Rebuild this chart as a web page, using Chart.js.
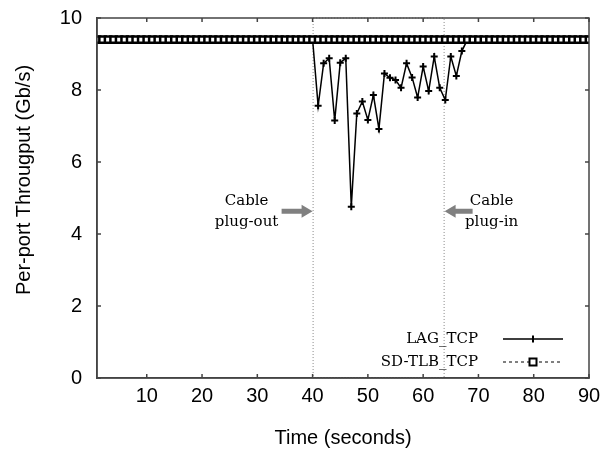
<!DOCTYPE html>
<html>
<head>
<meta charset="utf-8">
<script src="https://cdn.jsdelivr.net/npm/chart.js@4/dist/chart.umd.min.js"></script>
<style>
html, body { margin: 0; padding: 0; background: #fff; }
</style>
</head>
<body>
<canvas id="chart" width="606" height="452"></canvas>
<script>
// time axis, one sample per second
const seconds = [
  1, 2, 3, 4, 5, 6, 7, 8, 9, 10, 11, 12, 13, 14, 15, 16, 17, 18, 19, 20,
  21, 22, 23, 24, 25, 26, 27, 28, 29, 30, 31, 32, 33, 34, 35, 36, 37, 38, 39, 40,
  41, 42, 43, 44, 45, 46, 47, 48, 49, 50, 51, 52, 53, 54, 55, 56, 57, 58, 59, 60,
  61, 62, 63, 64, 65, 66, 67, 68, 69, 70, 71, 72, 73, 74, 75, 76, 77, 78, 79, 80,
  81, 82, 83, 84, 85, 86, 87, 88, 89, 90
];
const lagThroughput = [
  9.4, 9.4, 9.4, 9.4, 9.4, 9.4, 9.4, 9.4, 9.4, 9.4, 9.4, 9.4, 9.4, 9.4, 9.4, 9.4, 9.4, 9.4, 9.4, 9.4,
  9.4, 9.4, 9.4, 9.4, 9.4, 9.4, 9.4, 9.4, 9.4, 9.4, 9.4, 9.4, 9.4, 9.4, 9.4, 9.4, 9.4, 9.4, 9.4, 9.4,
  7.56, 8.74, 8.88, 7.15, 8.76, 8.88, 4.76, 7.35, 7.68, 7.17, 7.86, 6.92, 8.46, 8.34, 8.28, 8.06, 8.74, 8.35, 7.79, 8.65,
  7.97, 8.93, 8.06, 7.72, 8.93, 8.39, 9.08, 9.4, 9.4, 9.4, 9.4, 9.4, 9.4, 9.4, 9.4, 9.4, 9.4, 9.4, 9.4, 9.4,
  9.4, 9.4, 9.4, 9.4, 9.4, 9.4, 9.4, 9.4, 9.4, 9.4
];
const sdTlbThroughput = [
  9.4, 9.4, 9.4, 9.4, 9.4, 9.4, 9.4, 9.4, 9.4, 9.4, 9.4, 9.4, 9.4, 9.4, 9.4, 9.4, 9.4, 9.4, 9.4, 9.4,
  9.4, 9.4, 9.4, 9.4, 9.4, 9.4, 9.4, 9.4, 9.4, 9.4, 9.4, 9.4, 9.4, 9.4, 9.4, 9.4, 9.4, 9.4, 9.4, 9.4,
  9.4, 9.4, 9.4, 9.4, 9.4, 9.4, 9.4, 9.4, 9.4, 9.4, 9.4, 9.4, 9.4, 9.4, 9.4, 9.4, 9.4, 9.4, 9.4, 9.4,
  9.4, 9.4, 9.4, 9.4, 9.4, 9.4, 9.4, 9.4, 9.4, 9.4, 9.4, 9.4, 9.4, 9.4, 9.4, 9.4, 9.4, 9.4, 9.4, 9.4,
  9.4, 9.4, 9.4, 9.4, 9.4, 9.4, 9.4, 9.4, 9.4, 9.4
];
const seriesNames = ['LAG_TCP', 'SD-TLB_TCP'];
const xTickValues = [10, 20, 30, 40, 50, 60, 70, 80, 90];
const yTickValues = [0, 2, 4, 6, 8, 10];
const outageWindow = [40, 63.7];   // cable out .. cable back in
const arrowLevel = 4.63;

const axisColor = '#444';
const serif = '"DejaVu Serif", serif';
const sans = '"Liberation Sans", Arial, sans-serif';

function drawArrow(ctx, tipX, tipY, dir, len) {
  const head = 11, half = 6.5, shaft = 2.5;
  ctx.beginPath();
  ctx.moveTo(tipX, tipY);
  ctx.lineTo(tipX - dir * head, tipY - half);
  ctx.lineTo(tipX - dir * head, tipY - shaft);
  ctx.lineTo(tipX - dir * len, tipY - shaft);
  ctx.lineTo(tipX - dir * len, tipY + shaft);
  ctx.lineTo(tipX - dir * head, tipY + shaft);
  ctx.lineTo(tipX - dir * head, tipY + half);
  ctx.closePath();
  ctx.fill();
}

const overlay = {
  id: 'overlay',
  beforeDatasetsDraw(chart) {
    const { ctx, scales: { x, y } } = chart;
    const l = x.getPixelForValue(outageWindow[0]);
    const r = x.getPixelForValue(outageWindow[1]);
    const t = y.getPixelForValue(10), b = y.getPixelForValue(0);
    ctx.save();
    ctx.strokeStyle = '#888';
    ctx.lineWidth = 1;
    ctx.setLineDash([1, 2]);
    ctx.strokeRect(l + 0.5, t, r - l, b - t);
    ctx.restore();
  },
  afterDatasetsDraw(chart) {
    const { ctx, chartArea: a, scales: { x, y } } = chart;
    ctx.save();

    // frame + inward ticks
    ctx.strokeStyle = axisColor;
    ctx.lineWidth = 1.5;
    ctx.strokeRect(a.left, a.top, a.right - a.left, a.bottom - a.top);
    ctx.beginPath();
    xTickValues.forEach(v => {
      const px = x.getPixelForValue(v);
      ctx.moveTo(px, a.bottom); ctx.lineTo(px, a.bottom - 4);
      ctx.moveTo(px, a.top); ctx.lineTo(px, a.top + 4);
    });
    yTickValues.forEach(v => {
      const py = y.getPixelForValue(v);
      ctx.moveTo(a.left, py); ctx.lineTo(a.left + 4, py);
      ctx.moveTo(a.right, py); ctx.lineTo(a.right - 4, py);
    });
    ctx.stroke();

    // cable arrows and notes
    const ay = y.getPixelForValue(arrowLevel);
    const outX = x.getPixelForValue(outageWindow[0]);
    const inX = x.getPixelForValue(outageWindow[1]);
    ctx.fillStyle = '#808080';
    drawArrow(ctx, outX, ay, 1, 31);
    drawArrow(ctx, inX + 1, ay, -1, 28);

    ctx.fillStyle = '#000';
    ctx.font = '15px ' + serif;
    ctx.textAlign = 'center';
    ctx.textBaseline = 'middle';
    ctx.fillText('Cable', outX - 66, ay - 10);
    ctx.fillText('plug-out', outX - 66, ay + 11);
    ctx.fillText('Cable', inX + 48, ay - 10);
    ctx.fillText('plug-in', inX + 48, ay + 11);

    // legend
    const lx1 = a.right - 86, lx2 = a.right - 26, mx = a.right - 56;
    const ly1 = a.bottom - 39, ly2 = a.bottom - 16;
    ctx.textAlign = 'right';
    ctx.fillText(seriesNames[0], a.right - 111, ly1);
    ctx.fillText(seriesNames[1], a.right - 111, ly2);
    ctx.strokeStyle = '#000';
    ctx.lineWidth = 1.5;
    ctx.beginPath();
    ctx.moveTo(lx1, ly1); ctx.lineTo(lx2, ly1);
    ctx.moveTo(mx - 3.5, ly1); ctx.lineTo(mx + 3.5, ly1);
    ctx.stroke();
    ctx.lineWidth = 2;
    ctx.beginPath();
    ctx.moveTo(mx, ly1 - 3.5); ctx.lineTo(mx, ly1 + 3.5);
    ctx.stroke();
    ctx.lineWidth = 1;
    ctx.setLineDash([3, 3]);
    ctx.beginPath();
    ctx.moveTo(lx1, ly2); ctx.lineTo(lx2, ly2);
    ctx.stroke();
    ctx.setLineDash([]);
    ctx.fillStyle = '#fff';
    ctx.lineWidth = 2;
    ctx.fillRect(mx - 3.5, ly2 - 3.5, 7, 7);
    ctx.strokeRect(mx - 3.5, ly2 - 3.5, 7, 7);

    // y axis title (sits a bit above the plot centre in the original)
    ctx.fillStyle = '#000';
    ctx.font = '20px ' + sans;
    ctx.textAlign = 'center';
    ctx.translate(24, a.top + 162);
    ctx.rotate(-Math.PI / 2);
    ctx.fillText('Per-port Througput (Gb/s)', 0, 0);
    ctx.restore();
  }
};

const ctx = document.getElementById('chart').getContext('2d');
new Chart(ctx, {
  type: 'line',
  data: {
    datasets: [
      {
        label: seriesNames[1],
        data: seconds.map((t, i) => ({ x: t, y: sdTlbThroughput[i] })),
        borderColor: '#000',
        borderWidth: 1,
        borderDash: [3, 3],
        pointStyle: 'rect',
        pointRadius: 4.5,
        pointBorderWidth: 2.5,
        pointBorderColor: '#000',
        pointBackgroundColor: '#fff',
        tension: 0
      },
      {
        label: seriesNames[0],
        data: seconds.map((t, i) => ({ x: t, y: lagThroughput[i] })),
        borderColor: '#000',
        borderWidth: 1.5,
        pointStyle: 'cross',
        pointRadius: 3.5,
        pointBorderWidth: 2,
        pointBorderColor: '#000',
        tension: 0
      }
    ]
  },
  options: {
    responsive: false,
    animation: false,
    events: [],
    layout: { autoPadding: false, padding: { left: 0, right: 17, top: 18, bottom: 0 } },
    plugins: {
      legend: { display: false },
      tooltip: { enabled: false }
    },
    scales: {
      x: {
        type: 'linear',
        min: 1,
        max: 90,
        afterBuildTicks: s => { s.ticks = xTickValues.map(v => ({ value: v })); },
        afterFit: s => { s.height = 74; s.paddingLeft = 0; s.paddingRight = 0; },
        grid: { display: false, drawTicks: false },
        border: { display: true, color: axisColor, width: 1.5 },
        ticks: { color: '#000', padding: 6, maxRotation: 0, font: { family: sans, size: 20 } },
        title: {
          display: true,
          text: 'Time (seconds)',
          color: '#000',
          padding: { top: 0, bottom: 2 },
          font: { family: sans, size: 20 }
        }
      },
      y: {
        min: 0,
        max: 10,
        afterBuildTicks: s => { s.ticks = yTickValues.map(v => ({ value: v })); },
        afterFit: s => { s.width = 97; s.paddingTop = 0; s.paddingBottom = 0; },
        grid: { display: false, drawTicks: false },
        border: { display: true, color: axisColor, width: 1.5 },
        ticks: { color: '#000', padding: 15, font: { family: sans, size: 20 } }
      }
    }
  },
  plugins: [overlay]
});
</script>
</body>
</html>
